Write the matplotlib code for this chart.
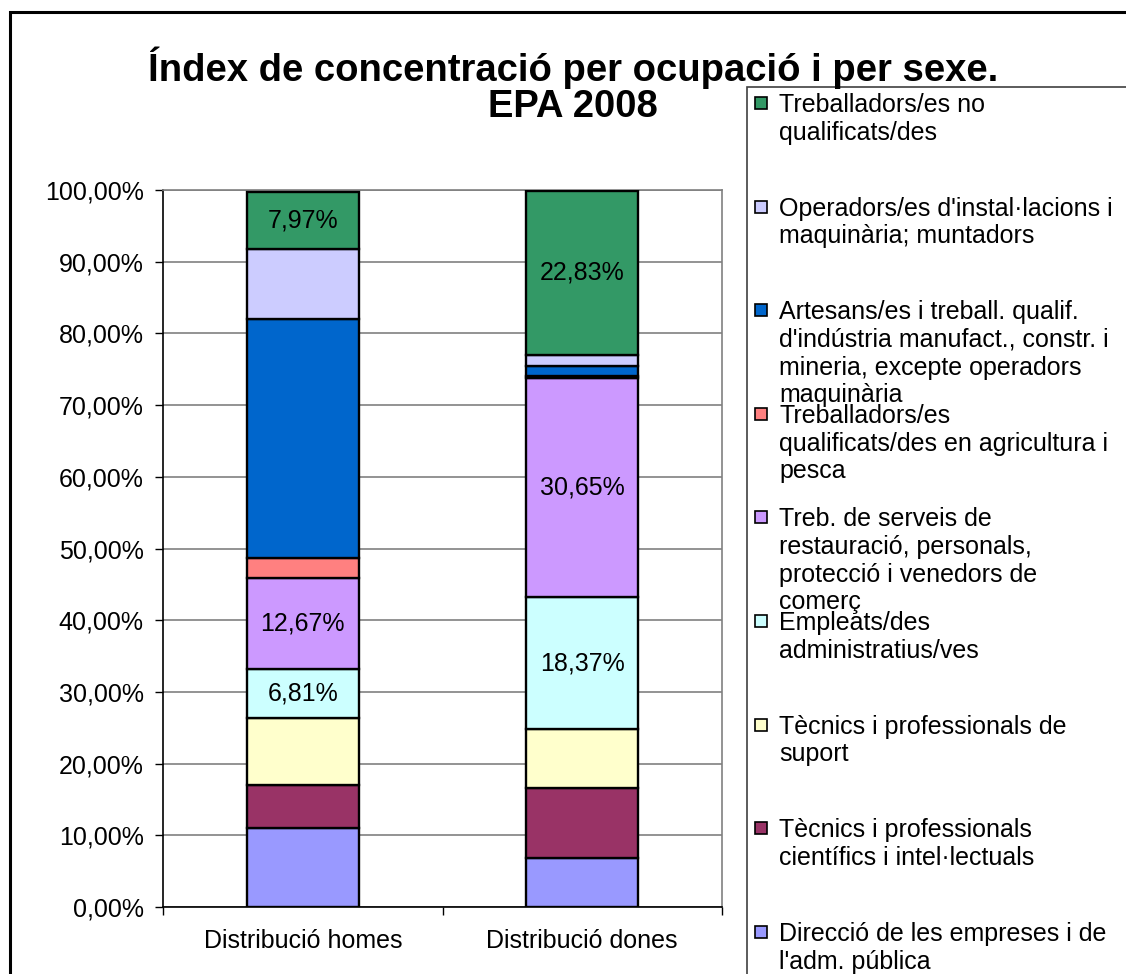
import matplotlib
matplotlib.use("Agg")
import matplotlib.pyplot as plt
from matplotlib.patches import Rectangle
from matplotlib.ticker import FuncFormatter, FixedLocator

plt.rcParams['font.family'] = ['Liberation Sans', 'DejaVu Sans']

W, H = 1126, 974

categories = ["Distribució homes", "Distribució dones"]

series_names = [
    "Direcció de les empreses i de\nl'adm. pública",
    "Tècnics i professionals\ncientífics i intel·lectuals",
    "Tècnics i professionals de\nsuport",
    "Empleats/des\nadministratius/ves",
    "Treb. de serveis de\nrestauració, personals,\nprotecció i venedors de\ncomerç",
    "Treballadors/es\nqualificats/des en agricultura i\npesca",
    "Artesans/es i treball. qualif.\nd'indústria manufact., constr. i\nmineria, excepte operadors\nmaquinària",
    "Operadors/es d'instal·lacions i\nmaquinària; muntadors",
    "Treballadors/es no\nqualificats/des",
]
colors = ["#9999FF", "#993366", "#FFFFCC", "#CCFFFF", "#CC99FF",
          "#FF8080", "#0066CC", "#CCCCFF", "#339966"]

homes = [11.0, 6.0, 9.4, 6.81, 12.67, 2.8, 33.3, 9.8, 7.97]
dones = [6.8, 9.8, 8.2, 18.37, 30.65, 0.2, 1.4, 1.6, 22.83]

labels_homes = [None, None, None, "6,81%", "12,67%", None, None, None, "7,97%"]
labels_dones = [None, None, None, "18,37%", "30,65%", None, None, None, "22,83%"]

title = "Índex de concentració per ocupació i per sexe.\nEPA 2008"

fig = plt.figure(figsize=(W / 100, H / 100), dpi=100)

def fx(px):
    return px / W

def fy(py):
    return 1 - py / H

# plot area
left, right, top, bottom = 163, 722, 190, 907
ax = fig.add_axes([fx(left), fy(bottom), fx(right) - fx(left), (bottom - top) / H])

data = [homes, dones]
lab = [labels_homes, labels_dones]
x = [0, 1]
for si in range(len(series_names)):
    vals = [data[c][si] / 100 for c in range(2)]
    bots = [sum(data[c][:si]) / 100 for c in range(2)]
    ax.bar(x, vals, bottom=bots, width=0.4, color=colors[si],
           edgecolor='black', linewidth=1.7, zorder=3)
    for c in range(2):
        t = lab[c][si]
        if t:
            ax.text(x[c], bots[c] + vals[c] / 2, t, ha='center', va='center',
                    fontsize=18, zorder=4)

ax.set_xlim(-0.5, 1.5)
ax.set_ylim(0, 1.0)
ax.set_yticks([i / 10 for i in range(11)])
ax.yaxis.set_major_formatter(FuncFormatter(lambda v, p: f"{v*100:.2f}%".replace('.', ',')))
ax.tick_params(axis='y', labelsize=18, length=6, width=1, direction='out', pad=8)
ax.set_xticks(x)
ax.set_xticklabels(categories)
ax.tick_params(axis='x', which='major', length=0, labelsize=18, pad=16)
ax.xaxis.set_minor_locator(FixedLocator([-0.5, 0.5, 1.5]))
ax.tick_params(axis='x', which='minor', length=6, width=1, direction='out')
ax.yaxis.grid(True, color='#808080', linewidth=1.2, zorder=0)
ax.set_axisbelow(True)
for s in ['left', 'bottom']:
    ax.spines[s].set_color('black')
    ax.spines[s].set_linewidth(1.2)
for s in ['top', 'right']:
    ax.spines[s].set_color('#808080')
    ax.spines[s].set_linewidth(1.2)

# title
t1, t2 = title.split("\n")
fig.text(fx(573), fy(68), t1, ha='center', va='center', fontsize=27.5, fontweight='bold')
fig.text(fx(573), fy(107), t2, ha='center', va='center', fontsize=27.5, fontweight='bold')

# outer border
fig.patches.append(Rectangle((fx(10), fy(1000)), fx(1200), (1000 - 12) / H,
                             transform=fig.transFigure, fill=False,
                             edgecolor='black', linewidth=2.2))
# legend box
fig.patches.append(Rectangle((fx(747), fy(1000)), fx(500), (1000 - 87) / H,
                             transform=fig.transFigure, fill=False,
                             edgecolor='#404040', linewidth=1.2))

# legend entries (top = last series)
entry_y0, entry_dy, line_dy = 103, 103.6, 27.7
for k, si in enumerate(range(len(series_names) - 1, -1, -1)):
    yc = entry_y0 + k * entry_dy
    fig.patches.append(Rectangle((fx(755), fy(yc + 6)), fx(12), 12 / H,
                                 transform=fig.transFigure, facecolor=colors[si],
                                 edgecolor='black', linewidth=1.2))
    for li, line in enumerate(series_names[si].split("\n")):
        fig.text(fx(779), fy(yc + 9 + li * line_dy), line, ha='left',
                 va='baseline', fontsize=18)

fig.savefig("out.png", dpi=100)
